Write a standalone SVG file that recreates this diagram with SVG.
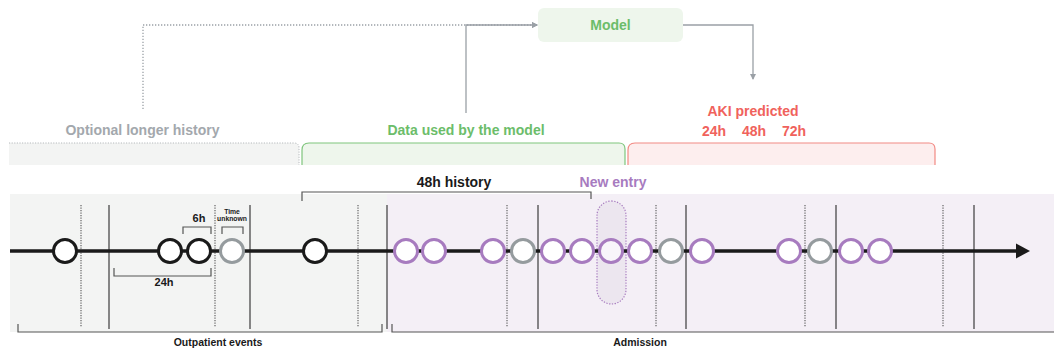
<svg xmlns="http://www.w3.org/2000/svg" width="1054" height="352" viewBox="0 0 1054 352">
<defs>
<marker id="ga" markerWidth="6" markerHeight="6" refX="5" refY="3" orient="auto" markerUnits="userSpaceOnUse"><path d="M0,0 L6,3 L0,6 Z" fill="#9aa0a6"/></marker>
<style>
text{font-family:"Liberation Sans",Arial,sans-serif;font-weight:bold;text-anchor:middle}
.t13{font-size:14px}
.g{fill:#6cbd6a}.r{fill:#f0625c}.gr{fill:#a3a8ad}.p{fill:#a77bbf}.k{fill:#1a1a1a}
.conn{fill:none;stroke:#9aa0a6;stroke-width:1.3}
.dot{stroke-dasharray:1.3 1.7}
.vs{stroke:#2a2a2a;stroke-width:1.1}
.vd{stroke:#555;stroke-width:1.1;stroke-dasharray:1.2 1.3}
.br{fill:none;stroke:#555;stroke-width:1.2}
.cb{fill:#fff;stroke:#1a1a1a;stroke-width:3}
.cp{fill:#fff;stroke:#a77bbf;stroke-width:3}
.cg{fill:#fff;stroke:#959b9e;stroke-width:3}
</style>
</defs>

<g id="connectors">
<path class="conn dot" d="M143,109 V25 H537" marker-end="url(#ga)"/>
<path class="conn" d="M466,113 V25 H537" marker-end="url(#ga)"/>
<path class="conn" d="M683,25 H753 V79" marker-end="url(#ga)"/>
</g>

<g id="model">
<rect x="538" y="8" width="145" height="34" rx="6" fill="#eef6ec"/>
<text class="t13 g" x="610.5" y="29.5">Model</text>
</g>

<g id="optional-history">
<text class="t13 gr" x="142.5" y="135">Optional longer history</text>
<path d="M9,165 V143 H294 Q299,143 299,148 V165 Z" fill="#f3f4f3"/>
<path d="M9,143 H294 Q299,143 299,148 V165" fill="none" stroke="#b5b9bc" stroke-width="1" stroke-dasharray="1.2 1.4"/>
</g>

<g id="data-used">
<text class="t13 g" x="466" y="135">Data used by the model</text>
<path d="M302,165 V150 Q302,143 309,143 H619 Q625,143 625,149 V165 Z" fill="#eef6ec"/>
<path d="M302,165 V150 Q302,143 309,143 H619 Q625,143 625,149 V165" fill="none" stroke="#7fc57d" stroke-width="1.2"/>
</g>

<g id="aki-predicted">
<text class="t13 r" x="753" y="116">AKI predicted</text>
<text class="t13 r" x="714" y="136">24h</text>
<text class="t13 r" x="754" y="136">48h</text>
<text class="t13 r" x="794" y="136">72h</text>
<path d="M628,165 V150 Q628,143 635,143 H929 Q935,143 935,149 V165 Z" fill="#fdeeee"/>
<path d="M628,165 V150 Q628,143 635,143 H929 Q935,143 935,149 V165" fill="none" stroke="#f28a84" stroke-width="1.2"/>
</g>

<g id="timeline-band">
<rect x="10" y="194" width="377" height="138" fill="#f3f4f3"/>
<rect x="387" y="194" width="667" height="138" fill="#f4eff6"/>
</g>

<g id="grid-lines">
<line class="vd" x1="81" y1="205" x2="81" y2="327"/>
<line class="vs" x1="109" y1="205" x2="109" y2="329"/>
<line class="vd" x1="215" y1="205" x2="215" y2="327"/>
<line class="vs" x1="250" y1="205" x2="250" y2="329"/>
<line class="vd" x1="358" y1="205" x2="358" y2="327"/>
<line class="vs" x1="387" y1="205" x2="387" y2="329"/>
<line class="vd" x1="507" y1="205" x2="507" y2="327"/>
<line class="vs" x1="538" y1="205" x2="538" y2="329"/>
<line class="vd" x1="656" y1="205" x2="656" y2="327"/>
<line class="vs" x1="686" y1="205" x2="686" y2="329"/>
<line class="vd" x1="805" y1="205" x2="805" y2="327"/>
<line class="vs" x1="836" y1="205" x2="836" y2="329"/>
<line class="vd" x1="943" y1="205" x2="943" y2="327"/>
<line class="vs" x1="974" y1="205" x2="974" y2="329"/>
</g>

<g id="new-entry">
<text class="t13 p" x="613" y="187">New entry</text>
<rect x="597" y="201" width="29" height="103" rx="14.5" fill="#ece6ef" stroke="#a77bbf" stroke-width="1.2" stroke-dasharray="1.3 1.5"/>
</g>

<g id="history-48h">
<text class="t13 k" x="454" y="187">48h history</text>
<path class="br" d="M302,201 V192 H591 V199"/>
</g>

<g id="axis">
<line x1="10" y1="251" x2="1018" y2="251" stroke="#1a1a1a" stroke-width="3.5"/>
<path d="M1016,243.5 L1030,251 L1016,258.5 Z" fill="#1a1a1a"/>
</g>

<g id="events">
<circle class="cb" cx="65" cy="251" r="11.5"/>
<circle class="cb" cx="170" cy="251" r="11.5"/>
<circle class="cb" cx="199" cy="251" r="11.5"/>
<circle class="cg" cx="232" cy="251" r="11.5"/>
<circle class="cb" cx="315" cy="251" r="11.5"/>
<circle class="cp" cx="406" cy="251" r="11.5"/>
<circle class="cp" cx="434" cy="251" r="11.5"/>
<circle class="cp" cx="493" cy="251" r="11.5"/>
<circle class="cg" cx="523" cy="251" r="11.5"/>
<circle class="cp" cx="553" cy="251" r="11.5"/>
<circle class="cp" cx="582" cy="251" r="11.5"/>
<circle class="cp" cx="611" cy="251" r="11.5" style="fill:#f8f5fa"/>
<circle class="cp" cx="640" cy="251" r="11.5"/>
<circle class="cg" cx="671" cy="251" r="11.5"/>
<circle class="cp" cx="702" cy="251" r="11.5"/>
<circle class="cp" cx="789" cy="251" r="11.5"/>
<circle class="cg" cx="820" cy="251" r="11.5"/>
<circle class="cp" cx="851" cy="251" r="11.5"/>
<circle class="cp" cx="880" cy="251" r="11.5"/>
</g>

<g id="interval-6h">
<text class="k" x="199" y="222" font-size="11">6h</text>
<path class="br" d="M183,234 V227 H211 V234"/>
</g>

<g id="time-unknown">
<text class="k" x="232" y="214" font-size="6.8">Time</text>
<text class="k" x="232" y="221" font-size="6.8">unknown</text>
<path class="br" d="M222,234 V227 H243 V234"/>
</g>

<g id="interval-24h">
<path class="br" d="M114,268 V276 H211 V268"/>
<text class="k" x="164" y="286" font-size="11">24h</text>
</g>

<g id="outpatient">
<path class="br" d="M18,324 V332 H382 V324"/>
<text class="k" x="218" y="346" font-size="10.5">Outpatient events</text>
</g>

<g id="admission">
<path class="br" d="M392,324 V332 H1054"/>
<text class="k" x="640" y="346" font-size="10.5">Admission</text>
</g>
</svg>
